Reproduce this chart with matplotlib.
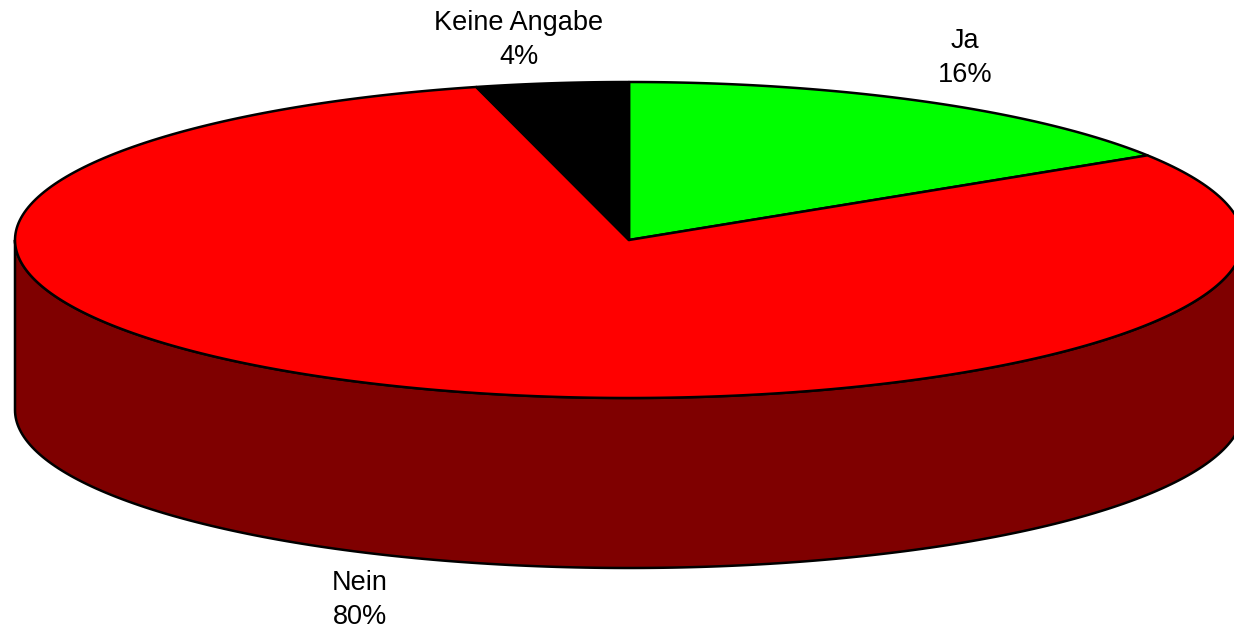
import numpy as np
import matplotlib.pyplot as plt
from matplotlib.patches import Polygon

plt.rcParams['font.family'] = ['Liberation Sans', 'DejaVu Sans']

# data
labels = ['Ja', 'Nein', 'Keine Angabe']
values = [16, 80, 4]
top_colors = ['#00ff00', '#ff0000', '#000000']
side_colors = ['#007f00', '#7f0000', '#000000']

# pie geometry (pixels)
cx, cy = 629, 240
rx, ry = 614, 158
depth = 170

# label positions (layout)
label_pos = [(965, 58), (360, 600), (519, 40)]

fig = plt.figure(figsize=(12.34, 6.34), dpi=100)
ax = fig.add_axes([0, 0, 1, 1])
ax.set_xlim(0, 1234)
ax.set_ylim(634, 0)
ax.axis('off')


def ell(t, dy=0):
    return cx + rx * np.cos(t), cy + dy - ry * np.sin(t)


fracs = np.array(values) / np.sum(values)
ends = 90 - 360 * np.cumsum(fracs)
starts = np.concatenate([[90], ends[:-1]])

# side walls (front half only: 180..360 deg)
for s, e, col in zip(starts, ends, side_colors):
    lo, hi = min(s, e), max(s, e)
    for off in (-360, 0, 360):
        a = max(lo + off, 180)
        b = min(hi + off, 360)
        if b > a:
            t = np.radians(np.linspace(a, b, 200))
            xt, yt = ell(t)
            xb, yb = ell(t[::-1], depth)
            pts = np.column_stack([np.concatenate([xt, xb]), np.concatenate([yt, yb])])
            ax.add_patch(Polygon(pts, closed=True, fc=col, ec='black', lw=1.8, joinstyle='round'))

# top wedges
for s, e, col in zip(starts, ends, top_colors):
    t = np.radians(np.linspace(s, e, 300))
    xt, yt = ell(t)
    pts = np.column_stack([np.concatenate([[cx], xt]), np.concatenate([[cy], yt])])
    ax.add_patch(Polygon(pts, closed=True, fc=col, ec='black', lw=1.8, joinstyle='round'))

for lab, v, (x, y) in zip(labels, values, label_pos):
    ax.text(x, y, f'{lab}\n{v}%', ha='center', va='center', fontsize=19.5,
            linespacing=1.45, color='black')

fig.savefig('out.png', dpi=100)
